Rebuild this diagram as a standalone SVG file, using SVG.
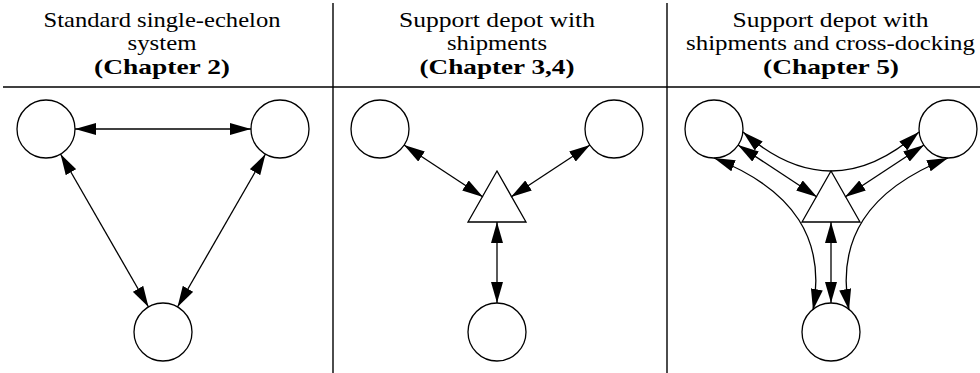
<svg xmlns="http://www.w3.org/2000/svg" width="980" height="373" viewBox="0 0 980 373">
<style>
.t{font-family:'Liberation Serif','DejaVu Serif',serif;font-size:21px;fill:#000}
.b{font-weight:bold}
.node{fill:#fff;stroke:#000;stroke-width:1.3}
.rule{stroke:#000;stroke-width:1.4;fill:none}
.edge{stroke:#000;stroke-width:1.3;fill:none;marker-start:url(#ah);marker-end:url(#ah)}
</style>
<defs>
<marker id="ah" markerUnits="userSpaceOnUse" markerWidth="21" markerHeight="12" viewBox="0 0 21 12" refX="21" refY="6" orient="auto-start-reverse">
<path d="M0,0 L21,6 L0,12 z" fill="#000"/>
</marker>
</defs>
<rect width="980" height="373" fill="#fff"/>
<g id="frame">
<line class="rule" x1="3" y1="87" x2="980" y2="87"/>
<line class="rule" x1="333" y1="3" x2="333" y2="373"/>
<line class="rule" x1="667" y1="3" x2="667" y2="373"/>
</g>
<g id="headers">
<text class="t" x="43.5" y="27" textLength="237" lengthAdjust="spacingAndGlyphs">Standard single-echelon</text>
<text class="t" x="127.5" y="49.5" textLength="69" lengthAdjust="spacingAndGlyphs">system</text>
<text class="t b" x="94" y="73.5" textLength="136" lengthAdjust="spacingAndGlyphs">(Chapter 2)</text>
<text class="t" x="399" y="27" textLength="196" lengthAdjust="spacingAndGlyphs">Support depot with</text>
<text class="t" x="447" y="49.5" textLength="100" lengthAdjust="spacingAndGlyphs">shipments</text>
<text class="t b" x="419.5" y="73.5" textLength="155" lengthAdjust="spacingAndGlyphs">(Chapter 3,4)</text>
<text class="t" x="732.5" y="27" textLength="196" lengthAdjust="spacingAndGlyphs">Support depot with</text>
<text class="t" x="686" y="49.5" textLength="289" lengthAdjust="spacingAndGlyphs">shipments and cross-docking</text>
<text class="t b" x="763" y="73.5" textLength="136" lengthAdjust="spacingAndGlyphs">(Chapter 5)</text>
</g>
<g id="p1-left"><circle class="node" cx="46" cy="129" r="29"/></g>
<g id="p1-right"><circle class="node" cx="280" cy="129" r="29"/></g>
<g id="p1-bottom"><circle class="node" cx="163" cy="332" r="29"/></g>
<g id="p2-left"><circle class="node" cx="380" cy="129" r="29"/></g>
<g id="p2-right"><circle class="node" cx="614" cy="129" r="29"/></g>
<g id="p2-bottom"><circle class="node" cx="497" cy="332" r="29"/></g>
<g id="p2-depot"><polygon class="node" points="497,171 526,222 468,222"/></g>
<g id="p3-left"><circle class="node" cx="714" cy="129" r="29"/></g>
<g id="p3-right"><circle class="node" cx="948" cy="129" r="29"/></g>
<g id="p3-bottom"><circle class="node" cx="831" cy="332" r="29"/></g>
<g id="p3-depot"><polygon class="node" points="831,171 860,222 802,222"/></g>
<g id="connectors">
<line class="edge" x1="75" y1="129" x2="251" y2="129"/>
<line class="edge" x1="60.5" y1="154" x2="148.5" y2="307"/>
<line class="edge" x1="265.5" y1="154" x2="177.5" y2="307"/>
<line class="edge" x1="404" y1="145" x2="483" y2="197"/>
<line class="edge" x1="590" y1="145" x2="511" y2="197"/>
<line class="edge" x1="497" y1="222" x2="497" y2="303"/>
<path class="edge" d="M743,132 Q831,210 919,132"/>
<line class="edge" x1="738" y1="145" x2="817" y2="197"/>
<line class="edge" x1="924" y1="145" x2="845" y2="197"/>
<line class="edge" x1="831" y1="222" x2="831" y2="303"/>
<path class="edge" d="M714,158 C795,190 826,240 813,310"/>
<path class="edge" d="M948,158 C867,190 836,240 849,310"/>
</g>
</svg>
